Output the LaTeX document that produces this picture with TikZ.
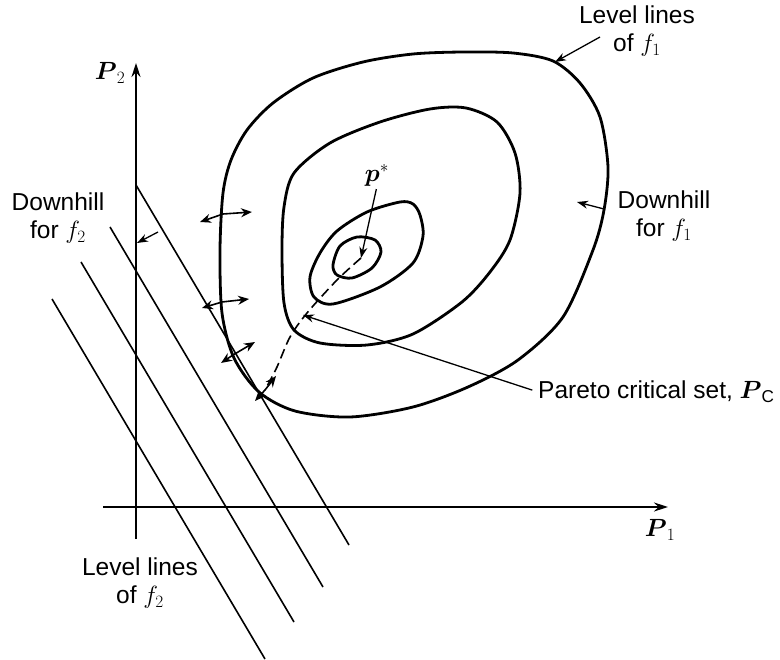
\documentclass[tikz,border=0pt]{standalone}
\usepackage{fontspec}
\setmainfont{Liberation Sans}
\usetikzlibrary{arrows.meta,positioning}

\begin{document}
\begin{tikzpicture}[x=1pt, y=-1pt, font=\fontsize{24.5}{28}\selectfont,
		axis/.style={line width=1.6pt, -{Stealth[length=14pt, width=9pt]}},
		level/.style={line width=2.8pt, line join=round},
		flat/.style={line width=1.6pt},
		grad/.style={line width=1.6pt, {Stealth[length=11pt, width=9pt]}-{Stealth[length=11pt, width=9pt]}},
		leader/.style={line width=1.3pt, -{Stealth[length=11pt, width=8pt]}},
		lbl/.style={align=center, inner sep=0pt}]
			\useasboundingbox (0,0) rectangle (780,660);
			% axes
			\coordinate (origin) at (136,507);
			\draw[axis] (103,507) -- (668,507);
			\draw[axis] (136,539) -- (136,63);
			\node[lbl] (ptwo) at (110,73) {$\mbox{\boldmath$P$}_2$};
			\node[lbl] (pone) at (660,530) {$\mbox{\boldmath$P$}_1$};
			% level lines of f2
			\draw[flat] (136,185) -- (349,545);
			\draw[flat] (110,227) -- (323,587);
			\draw[flat] (81,262) -- (294,622);
			\draw[flat] (52,299) -- (265,659);
			% level lines of f1
			\draw[level] plot[smooth cycle] coordinates {(220,250) (223,193) (231,160) (247,130) (273,103)
				(313,78) (363,62) (413,54) (463,52) (513,53) (553,61) (580,83) (600,117) (608,167)
				(604,210) (593,250) (563,317) (518,360) (468,387) (413,407) (350,417) (295,411) (259,392)
				(234,358) (222,313)};
			\draw[level] plot[smooth cycle] coordinates {(282,250) (284,207) (294,173) (330,143) (380,122)
				(430,109) (466,108) (497,122) (515,153) (520,193) (510,240) (490,272) (462,302) (413,334)
				(367,345) (320,343) (294,330) (284,303)};
			\draw[level] plot[smooth cycle] coordinates {(310,277) (320,253) (337,231) (367,212) (400,202)
				(413,204) (420,215) (423,236) (413,263) (380,287) (333,304) (314,297)};
			\draw[level] plot[smooth cycle] coordinates {(333,265) (340,246) (357,237) (375,240) (381,252)
				(372,268) (352,278) (337,275)};
			% Pareto critical set
			\coordinate (popt) at (361,258);
			\coordinate (pend) at (265,390);
			\draw[line width=1.6pt, dash pattern=on 10pt off 5pt] plot[smooth] coordinates {(popt) (337,280)
				(307,313) (290,337) (277,367) (pend)};
			% gradient directions
			\draw[grad] (200,222) -- (223,214) -- (252,212);
			\draw[grad] (202,308) -- (222,302) -- (249,299);
			\draw[grad] (221,363) -- (233,355) -- (255,342);
			\draw[grad] (255,401) -- (pend) -- (276,376);
			% labels
			\node[lbl] (pstar) at (377,175) {$\mbox{\boldmath$p$}^*$};
			\node[lbl] (levone) at (637,31) {Level lines\\of $f_1$};
			\node[lbl] (downone) at (664,216) {Downhill\\for $f_1$};
			\node[lbl] (downtwo) at (58,218) {Downhill\\for $f_2$};
			\node[lbl] (levtwo) at (140,583) {Level lines\\of $f_2$};
			\node[lbl, anchor=west] (pareto) at (538,392) {Pareto critical set, $\mbox{\boldmath$P$}_{\mathrm{C}}$};
			\coordinate (levfrom) at (600,37);
			\coordinate (levto) at (555,62);
			\coordinate (oneto) at (577,202);
			\coordinate (onefrom) at (604,209);
			\coordinate (twofrom) at (158,232);
			\coordinate (twoto) at (137,243);
			\coordinate (pcto) at (303,315);
			\draw[leader] (levfrom) -- (levto);
			\draw[leader] (onefrom) -- (oneto);
			\draw[leader] (twofrom) -- (twoto);
			\draw[leader, shorten <=3pt] (pstar.south) -- (popt);
			\draw[leader, shorten <=6pt] (pareto.west) -- (pcto);
		\end{tikzpicture}
\end{document}
